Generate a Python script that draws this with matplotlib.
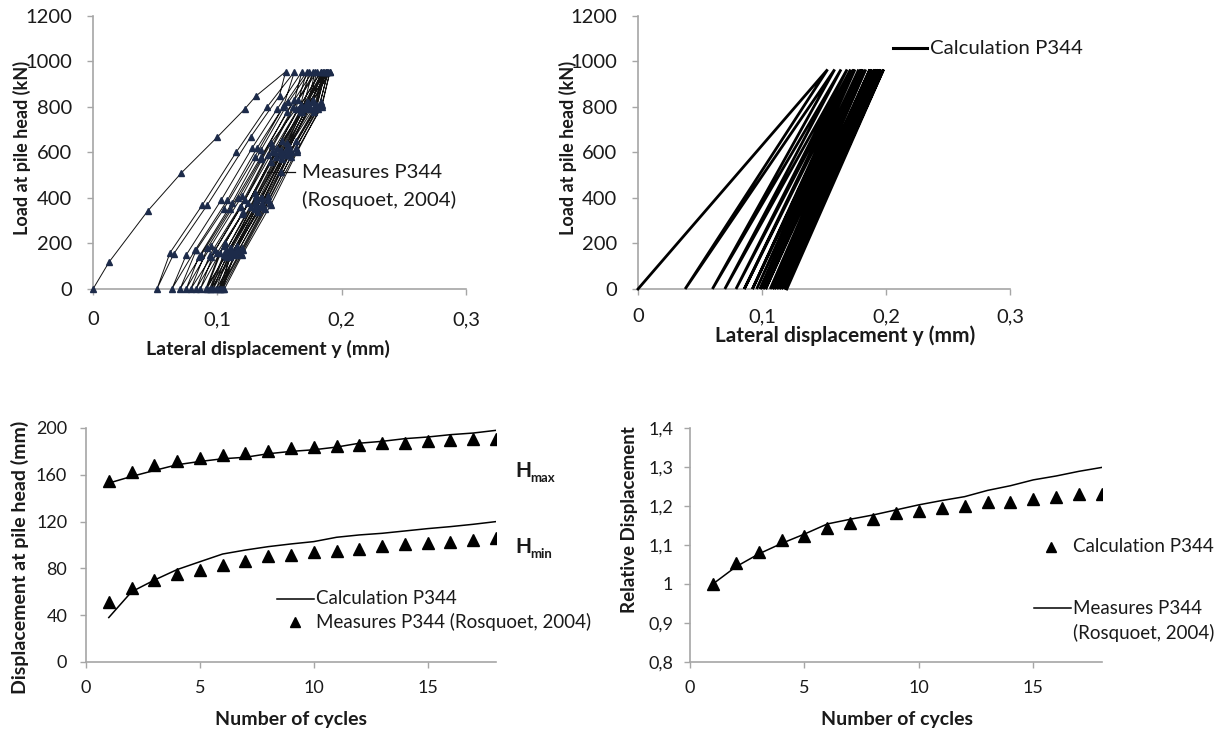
import matplotlib
matplotlib.use("Agg")
import matplotlib.pyplot as plt
from matplotlib.lines import Line2D

plt.rcParams['font.family'] = ['Lato', 'DejaVu Sans']

W, H = 1223, 733

# ---------------------------------------------------------------- data
cycles = list(range(1, 19))

# displacement at pile head (mm) per cycle
hmax_calc = [152.9, 158.6, 163.7, 168.6, 171.4, 173.7, 175.0, 178.0, 180.0,
             181.4, 183.7, 187.0, 188.6, 190.9, 192.3, 194.3, 195.7, 198.0]
hmin_calc = [38.0, 60.0, 70.0, 79.0, 85.7, 92.3, 95.7, 98.6, 100.9,
             102.9, 106.6, 108.6, 110.0, 112.0, 114.0, 115.7, 117.7, 120.0]
hmax_meas = [154.9, 162.0, 168.0, 172.0, 174.0, 176.6, 178.6, 180.0, 183.0,
             183.4, 185.0, 185.7, 187.0, 187.0, 188.6, 189.4, 190.6, 190.6]
hmin_meas = [51.4, 63.4, 70.0, 74.9, 78.6, 82.9, 86.3, 90.6, 91.4,
             93.7, 95.1, 96.6, 99.1, 100.9, 102.0, 102.9, 104.3, 105.7]

# relative displacement per cycle
rel_calc = [1.000, 1.054, 1.083, 1.113, 1.124, 1.143, 1.156, 1.166, 1.181,
            1.186, 1.194, 1.199, 1.211, 1.211, 1.217, 1.224, 1.230, 1.230]
rel_meas = [1.000, 1.044, 1.077, 1.104, 1.128, 1.154, 1.166, 1.177, 1.190,
            1.203, 1.214, 1.224, 1.240, 1.252, 1.267, 1.277, 1.289, 1.299]

# load-displacement loops (load in kN, lateral displacement y)
meas_peak_load = 955
calc_peak_load = 965
first_load_y = [0.0, 0.013, 0.044, 0.071, 0.100, 0.122, 0.131]
first_load_p = [0, 119, 343, 510, 668, 791, 848]

# unloading branches: from each peak down to the residual displacement
meas_unload_p = [
    [850, 670, 370, 155], [800, 620, 390, 170], [830, 580, 350, 150],
    [790, 640, 410, 190], [810, 600, 360, 140], [780, 560, 330, 160],
    [820, 650, 420, 200], [800, 590, 380, 150], [790, 610, 350, 180],
    [830, 570, 400, 160], [800, 630, 370, 140], [780, 590, 340, 190],
    [810, 650, 410, 170], [800, 600, 360, 150], [820, 620, 390, 180],
    [790, 580, 350, 160], [800, 610, 380, 170], [810, 600, 370, 150],
]
meas_unload_y = [
    [0.150, 0.127, 0.092, 0.065], [0.153, 0.132, 0.108, 0.082],
    [0.162, 0.135, 0.110, 0.087], [0.163, 0.143, 0.120, 0.095],
    [0.167, 0.144, 0.119, 0.095], [0.168, 0.143, 0.120, 0.100],
    [0.173, 0.152, 0.130, 0.106], [0.173, 0.151, 0.130, 0.107],
    [0.175, 0.155, 0.130, 0.110], [0.177, 0.152, 0.135, 0.110],
    [0.178, 0.158, 0.135, 0.110], [0.178, 0.157, 0.133, 0.116],
    [0.180, 0.163, 0.141, 0.117], [0.180, 0.159, 0.137, 0.115],
    [0.183, 0.163, 0.141, 0.120], [0.181, 0.159, 0.138, 0.119],
    [0.184, 0.164, 0.142, 0.121], [0.184, 0.164, 0.143, 0.120],
]
# reloading branches: from each residual displacement up to the next peak
meas_reload_p = [
    [160, 370, 600, 800], [150, 390, 620, 790], [170, 350, 580, 810],
    [140, 380, 610, 820], [180, 400, 570, 780], [150, 360, 630, 800],
    [170, 390, 590, 830], [160, 340, 600, 790], [190, 380, 620, 810],
    [150, 410, 580, 800], [170, 360, 610, 780], [140, 390, 600, 820],
    [180, 370, 640, 800], [160, 350, 590, 810], [150, 400, 620, 790],
    [170, 380, 600, 800], [160, 360, 610, 820],
]
meas_reload_y = [
    [0.062, 0.088, 0.115, 0.140], [0.075, 0.103, 0.128, 0.148],
    [0.083, 0.105, 0.130, 0.154], [0.085, 0.112, 0.135, 0.157],
    [0.092, 0.117, 0.135, 0.156], [0.094, 0.118, 0.144, 0.161],
    [0.098, 0.122, 0.141, 0.165], [0.102, 0.121, 0.146, 0.165],
    [0.105, 0.125, 0.148, 0.167], [0.105, 0.131, 0.147, 0.168],
    [0.107, 0.127, 0.151, 0.167], [0.107, 0.131, 0.151, 0.172],
    [0.111, 0.131, 0.156, 0.170], [0.112, 0.131, 0.153, 0.173],
    [0.111, 0.136, 0.156, 0.171], [0.115, 0.136, 0.156, 0.174],
    [0.114, 0.134, 0.157, 0.176],
]

top_xticks = [0, 0.1, 0.2, 0.3]
top_xticklabels = ['0', '0,1', '0,2', '0,3']
top_yticks = [0, 200, 400, 600, 800, 1000, 1200]
bl_xticks = [0, 5, 10, 15]
bl_yticks = [0, 40, 80, 120, 160, 200]
br_yticks = [0.8, 0.9, 1.0, 1.1, 1.2, 1.3, 1.4]
br_yticklabels = ['0,8', '0,9', '1', '1,1', '1,2', '1,3', '1,4']

# ---------------------------------------------------------------- helpers
AXIS_GREY = '#a6a6a6'
TEXT = '#1a1a1a'
MARKER_BLUE = '#1d2b4a'


def fx(px):
    return px / W


def fy(py):
    return 1 - py / H


def style(ax, tick_size, pad_x, pad_y):
    for s in ('top', 'right'):
        ax.spines[s].set_visible(False)
    for s in ('left', 'bottom'):
        ax.spines[s].set_color(AXIS_GREY)
        ax.spines[s].set_linewidth(1.2)
    ax.tick_params(direction='out', length=4, width=1.0, color=AXIS_GREY,
                   labelcolor=TEXT, labelsize=tick_size)
    ax.tick_params(axis='x', pad=pad_x)
    ax.tick_params(axis='y', pad=pad_y)


def fig_line(fig, x0, x1, y, **kw):
    fig.add_artist(Line2D([fx(x0), fx(x1)], [fy(y), fy(y)],
                          transform=fig.transFigure, **kw))


def fig_marker(fig, x, y, **kw):
    fig.add_artist(Line2D([fx(x)], [fy(y)], transform=fig.transFigure,
                          linestyle='none', **kw))


def fig_text(fig, x, y, s, **kw):
    kw.setdefault('color', TEXT)
    kw.setdefault('va', 'center')
    fig.text(fx(x), fy(y), s, **kw)


fig = plt.figure(figsize=(W / 100, H / 100), dpi=100)

ax_tl = fig.add_axes([fx(93), fy(289), 373 / W, 273 / H])
ax_tr = fig.add_axes([fx(638), fy(289), 372 / W, 273 / H])
ax_bl = fig.add_axes([fx(86), fy(662), 410 / W, 234 / H])
ax_br = fig.add_axes([fx(690), fy(662), 412 / W, 234 / H])

# ---------------------------------------------------------------- top left: measured loops
path_y = list(first_load_y)
path_p = list(first_load_p)
for i in range(len(hmax_meas)):
    path_y.append(hmax_meas[i] / 1000)
    path_p.append(meas_peak_load)
    path_y += meas_unload_y[i]
    path_p += meas_unload_p[i]
    path_y.append(hmin_meas[i] / 1000)
    path_p.append(0)
    if i < len(meas_reload_y):
        path_y += meas_reload_y[i]
        path_p += meas_reload_p[i]

ax_tl.plot(path_y, path_p, color='#111111', lw=0.7, marker='^', ms=4.2,
           mfc=MARKER_BLUE, mec=MARKER_BLUE, clip_on=False, zorder=3)
ax_tl.set_xlim(0, 0.3)
ax_tl.set_ylim(0, 1200)
ax_tl.set_xticks(top_xticks)
ax_tl.set_xticklabels(top_xticklabels)
ax_tl.set_yticks(top_yticks)
style(ax_tl, 14.5, 12, 11)

# ---------------------------------------------------------------- top right: calculated loops
calc_y = [0.0]
calc_p = [0]
for i in range(len(hmax_calc)):
    calc_y += [hmax_calc[i] / 1000, hmin_calc[i] / 1000]
    calc_p += [calc_peak_load, 0]
ax_tr.plot(calc_y, calc_p, color='black', lw=2.0, clip_on=False, zorder=3,
           solid_joinstyle='miter')
ax_tr.set_xlim(0, 0.3)
ax_tr.set_ylim(0, 1200)
ax_tr.set_xticks(top_xticks)
ax_tr.set_xticklabels(top_xticklabels)
ax_tr.set_yticks(top_yticks)
style(ax_tr, 14.5, 10, 11)

# ---------------------------------------------------------------- bottom left: displacement vs cycles
ax_bl.plot(cycles, hmax_calc, color='black', lw=1.1)
ax_bl.plot(cycles, hmin_calc, color='black', lw=1.1)
ax_bl.plot(cycles, hmax_meas, ls='none', marker='^', ms=8, color='black')
ax_bl.plot(cycles, hmin_meas, ls='none', marker='^', ms=8, color='black')
ax_bl.set_xlim(0, 18)
ax_bl.set_ylim(0, 200)
ax_bl.set_xticks(bl_xticks)
ax_bl.set_yticks(bl_yticks)
style(ax_bl, 13, 9, 9.5)

# ---------------------------------------------------------------- bottom right: relative displacement
ax_br.plot(cycles, rel_meas, color='black', lw=1.1)
ax_br.plot(cycles, rel_calc, ls='none', marker='^', ms=8, color='black')
ax_br.set_xlim(0, 18)
ax_br.set_ylim(0.8, 1.4)
ax_br.set_xticks(bl_xticks)
ax_br.set_yticks(br_yticks)
ax_br.set_yticklabels(br_yticklabels)
style(ax_br, 13, 9, 8)

# ---------------------------------------------------------------- axis titles
fig_text(fig, 268, 349, 'Lateral displacement y (mm)', ha='center',
         fontsize=14, fontweight='bold')
fig_text(fig, 22, 148, 'Load at pile head (kN)', ha='center', rotation=90,
         fontsize=13, fontweight='bold')
fig_text(fig, 845, 336, 'Lateral displacement y (mm)', ha='center',
         fontsize=15, fontweight='bold')
fig_text(fig, 568, 148, 'Load at pile head (kN)', ha='center', rotation=90,
         fontsize=13, fontweight='bold')

fig_text(fig, 20, 557, 'Displacement at pile head (mm)', ha='center', rotation=90,
         fontsize=14, fontweight='bold')
fig_text(fig, 291, 719, 'Number of cycles', ha='center', fontsize=14, fontweight='bold')
fig_text(fig, 630, 613, 'Relative Displacement', ha='center', va='bottom',
         rotation=90, fontsize=13.5, fontweight='bold')
fig_text(fig, 897, 719, 'Number of cycles', ha='center', fontsize=14, fontweight='bold')

# H_max / H_min annotations
fig_text(fig, 515, 471, 'H', ha='left', fontsize=15, fontweight='bold')
fig_text(fig, 530, 478, 'max', ha='left', fontsize=9.5, fontweight='bold')
fig_text(fig, 515, 547, 'H', ha='left', fontsize=15, fontweight='bold')
fig_text(fig, 530, 554, 'min', ha='left', fontsize=9.5, fontweight='bold')

# ---------------------------------------------------------------- legends
# top left
fig_line(fig, 267, 295, 172, color='#111111', lw=0.9)
fig_marker(fig, 281, 172, marker='^', ms=4.2, mfc=MARKER_BLUE, mec=MARKER_BLUE)
fig_text(fig, 302, 172, 'Measures P344', ha='left', fontsize=14.7)
fig_text(fig, 302, 200, '(Rosquoet, 2004)', ha='left', fontsize=14.7)
# top right
fig_line(fig, 893, 927, 48, color='black', lw=2.2)
fig_text(fig, 930, 48, 'Calculation P344', ha='left', fontsize=14.7)
# bottom left
fig_line(fig, 277, 314, 599, color='black', lw=1.1)
fig_text(fig, 316, 599, 'Calculation P344', ha='left', fontsize=13.5)
fig_marker(fig, 295, 622, marker='^', ms=7.5, color='black')
fig_text(fig, 316, 622, 'Measures P344 (Rosquoet, 2004)', ha='left', fontsize=13.5)
# bottom right
fig_marker(fig, 1051, 547, marker='^', ms=7.5, color='black')
fig_text(fig, 1073, 547, 'Calculation P344', ha='left', fontsize=13.5)
fig_line(fig, 1034, 1071, 608, color='black', lw=1.1)
fig_text(fig, 1073, 608, 'Measures P344', ha='left', fontsize=13.5)
fig_text(fig, 1073, 633, '(Rosquoet, 2004)', ha='left', fontsize=13.5)

fig.savefig('out.png', dpi=100, facecolor='white')
